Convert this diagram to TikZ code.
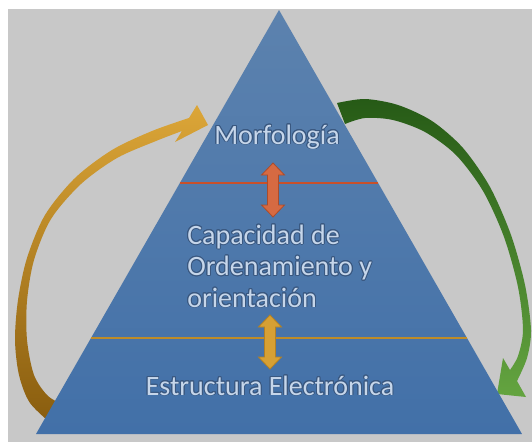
\documentclass[tikz,border=0pt]{standalone}
\usepackage{fontspec}
\setmainfont{Carlito}
\usepackage{contour}
\usepackage{tikz}
\usetikzlibrary{calc}

\definecolor{bggray}{RGB}{200,200,200}
\definecolor{pyrtop}{RGB}{92,130,174}
\definecolor{pyrbot}{RGB}{66,112,168}
\definecolor{labeltext}{RGB}{198,214,234}
\definecolor{labelglow}{RGB}{58,88,128}
\definecolor{redline}{RGB}{200,80,42}
\definecolor{redfill}{RGB}{214,106,66}
\definecolor{reddraw}{RGB}{170,76,44}
\definecolor{goldline}{RGB}{190,140,40}
\definecolor{goldfill}{RGB}{214,160,52}
\definecolor{golddraw}{RGB}{176,128,38}
\definecolor{goldtop}{RGB}{220,166,56}
\definecolor{goldbot}{RGB}{136,92,14}
\definecolor{greentop}{RGB}{38,90,22}
\definecolor{greenbot}{RGB}{100,164,64}

\contourlength{0.7pt}
\newcommand{\glow}[1]{\contour{labelglow}{#1}}

\begin{document}
\begin{tikzpicture}[x=0.75pt, y=-0.75pt,
level/.style={font=\fontsize{21}{23.6}\selectfont, text=labeltext, inner sep=0pt},
divider/.style={line width=1.2pt},
]

\tikzset{
  pics/updown/.style args={#1,#2}{
     code={
	     \filldraw[fill=#1, draw=#2, line width=0.6pt] (-5.5,-15) -- (-11.5,-15) -- (0,-27) -- (11.5,-15) -- (5.5,-15) -- (5.5,15) -- (11.5,15) -- (0,27) -- (-11.5,15) -- (-5.5,15) -- cycle;
     }
  }
}

\useasboundingbox (0,0) rectangle (532,447);
\fill[bggray] (8,9) rectangle (532,442);

%Corners
\coordinate (apex) at (279,10);
\coordinate (bl) at (36,434);
\coordinate (br) at (522,434);

% Curved arrows
\shade[top color=goldtop, bottom color=goldbot] plot[smooth] coordinates {(54,426) (30,403) (19,375) (15,340) (18,300) (27,258) (45,215) (75,178) (112,150) (152,131) (189,118)} -- (197,105) -- (208,125) -- (175,142) -- plot[smooth] coordinates {(182,131) (156,141) (117,158) (81,184) (51,219) (34,260) (27,301) (27,340) (34,375) (48,396) (66,406)} -- cycle;
\shade[top color=greentop, bottom color=greenbot] plot[smooth] coordinates {(337,103) (365,99) (398,105) (432,121) (463,148) (490,187) (511,235) (525,285) (531,330) (527,358) (517,381)} -- (526,397) -- (497,394) -- (503,358) -- plot[smooth] coordinates {(510,370) (518,356) (523,330) (518,287) (504,237) (483,191) (456,155) (425,132) (393,120) (365,118) (345,124)} -- cycle;

% Pyramid
\shade[top color=pyrtop, bottom color=pyrbot] (apex) -- (bl) -- (br) -- cycle;
\draw[divider, redline] ($(apex)!0.408!(bl)$) -- ($(apex)!0.408!(br)$);
\draw[divider, goldline] ($(apex)!0.7736!(bl)$) -- ($(apex)!0.7736!(br)$);

%Nodes
\node[level, anchor=base] (morf) at (277,144) {\glow{Morfología}};
\node[level, anchor=base west, align=left] (capac) at (187,307) {\glow{Capacidad de}\\\glow{Ordenamiento y}\\\glow{orientación}};
\node[level, anchor=base] (estr) at (270,395) {\glow{Estructura Electrónica}};

% Double arrows
\pic at (273,190) {updown={redfill, reddraw}};
\pic at (270,342) {updown={goldfill, golddraw}};
\end{tikzpicture}
\end{document}
